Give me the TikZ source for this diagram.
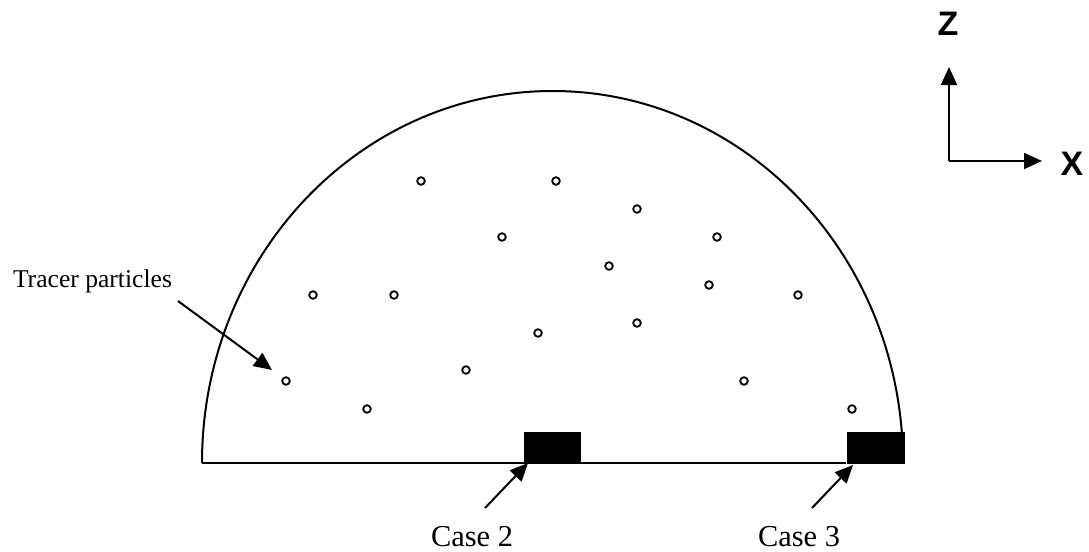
\documentclass[tikz,border=0pt]{standalone}
\usepackage{fontspec}
\setmainfont{Liberation Serif}
\setsansfont{Liberation Sans}
\usetikzlibrary{arrows.meta, positioning}
\tikzset{
  every picture/.style={line width=1pt},
  wall/.style={draw=black, line width=1pt},
  arrow/.style={-{Triangle[length=9pt, width=8pt]}, draw=black, line width=1pt},
  tracer/.style={circle, draw=black, line width=0.9pt, inner sep=0pt, minimum size=3.8pt},
  caseblock/.style={fill=black, inner sep=0pt, anchor=south west},
  label/.style={font=\fontsize{12.8}{15}\selectfont, inner sep=0pt},
  caselabel/.style={font=\fontsize{15.2}{18}\selectfont, inner sep=0pt, anchor=base},
  axislabel/.style={font=\sffamily\bfseries\fontsize{17}{20}\selectfont, inner sep=0pt},
}

\begin{document}
\begin{tikzpicture}[x=0.5pt, y=-0.5pt]
  \useasboundingbox (0,0) rectangle (1089,552);

  % vessel: half ellipse on a flat base
  \coordinate (bl) at (202,463);
  \draw[wall] (bl) arc[start angle=180, end angle=0, x radius=175.25pt, y radius=186pt];
  \node[caseblock, minimum width=28.5pt, minimum height=15pt] (box2) at (523,463) {};
  \node[caseblock, minimum width=29pt, minimum height=16pt] (box3) at (846,465) {};
  \draw[wall] (bl) -- (box3.west |- bl);

  % tracer particles
  \foreach \px/\py [count=\i] in {421/181, 556/181, 637/209, 502/237, 717/237, 609/266,
      709/285, 313/295, 394/295, 798/295, 637/323, 538/333, 466/370, 286/381,
      744/381, 367/409, 852/409}
    \node[tracer] (p\i) at (\px,\py) {};

  % labels
  \node[label, anchor=west] (tracers) at (12,281) {Tracer particles};
  \node[caselabel] (case2) at (472,546) {Case 2};
  \node[caselabel] (case3) at (799,546) {Case 3};
  \coordinate (tracertail) at (178,301);
  \coordinate (tracertip) at (272,370);
  \coordinate (case2tail) at (485,508);
  \coordinate (case3tail) at (812,508);
  \draw[arrow] (tracertail) -- (tracertip);
  \draw[arrow] (case2tail) -- ([xshift=2.5pt]box2.south west);
  \draw[arrow] (case3tail) -- ([xshift=3.5pt]box3.south west);

  % axes
  \coordinate (origin) at (949,161);
  \coordinate (ztip) at (949,67);
  \coordinate (xtip) at (1042,161);
  \draw[arrow] (origin) -- (ztip);
  \draw[arrow] (origin) -- (xtip);
  \node[axislabel] (zlab) at (948,24) {Z};
  \node[axislabel] (xlab) at (1072,164) {X};
\end{tikzpicture}
\end{document}
